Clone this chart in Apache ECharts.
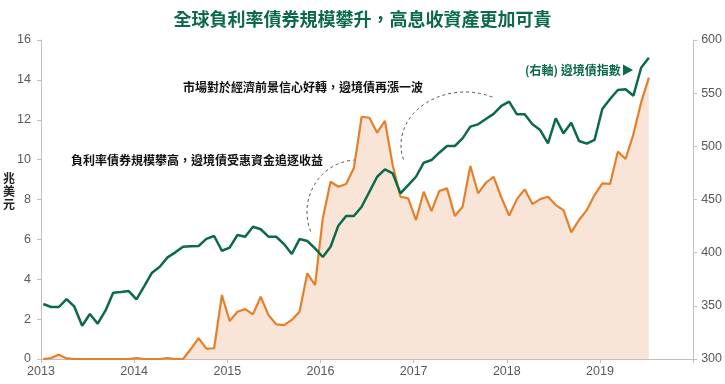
<!DOCTYPE html>
<html>
<head>
<meta charset="utf-8">
<script src="https://cdn.jsdelivr.net/npm/echarts@6/dist/echarts.min.js"></script>
<style>html,body{margin:0;padding:0;background:#fff}#c{width:725px;height:384px}</style>
</head>
<body>
<div id="c"></div>
<script>
// ---- data (monthly, Jan 2013 - Jul 2019) ----
const startYear = 2013;
const yearLabels = ['2013','2014','2015','2016','2017','2018','2019'];
const leftTicks = [0,2,4,6,8,10,12,14,16];
const rightTicks = [300,350,400,450,500,550,600];
// Negative-yield bond size (trillion USD, left axis)
const negYield = [0,0.05,0.22,0.03,0,0,0,0,0,0,0,0,0.04,0,0,0,0.04,0,0,0.5,
  1.04,0.52,0.54,3.21,1.9,2.37,2.5,2.24,3.12,2.2,1.74,1.7,1.96,2.37,4.3,3.71,
  7.06,8.89,8.64,8.78,9.58,12.15,12.1,11.35,11.94,9.73,8.14,8.06,6.97,8.39,7.42,
  8.43,8.56,7.17,7.64,9.68,8.31,8.84,9.14,8.1,7.19,8.02,8.51,7.77,8.02,8.14,7.72,
  7.47,6.35,6.97,7.47,8.22,8.81,8.78,10.4,10.03,11.27,12.87,14.11];
// Frontier-market bond index (right axis)
const emIndex = [351.7,348.9,348.9,356.4,349.2,331.3,342.3,333.2,345.4,362.3,363,363.9,
  356.1,368.6,381.2,386.8,395.6,400.3,405.6,406,406.3,413,415.7,401.8,404.7,416.6,415,
  424.4,422,415,415,408.1,398.7,412.8,411,404.1,395.9,405.6,425.4,434.5,434.5,443.2,
  457.3,471.4,478.4,474.6,455.8,463.6,471.4,484.6,487.1,494,500.3,500.3,507.5,518.5,
  520.7,525.7,530.5,538,542,530.1,530.1,520.7,515.3,502.8,526.4,512.2,522.2,505,502.5,
  506,535.1,544.5,553,553.6,547.6,573.9,583.3];
const monthOffset = 0.3; // observations sit slightly after month start

const negData = negYield.map((v,i)=>[i+monthOffset, v]);
const emData = emIndex.map((v,i)=>[i+monthOffset, v]);

const GREEN = '#0b6a47';
const ORANGE = '#e5802a';
const AREA = '#f9e5d7';
const AXIS = '#bfbfbf';
const LABEL = '#595959';
const CJK = '"Noto Sans CJK TC","Noto Sans CJK SC",sans-serif';
const NUM = '"Liberation Sans Narrow","Liberation Sans",Arial,sans-serif';

function arcPts(cx,cy,rx,ry,a0,a1){
  const pts=[];
  for(let k=0;k<=48;k++){
    const t=(a0+(a1-a0)*k/48)*Math.PI/180;
    pts.push([cx+rx*Math.cos(t), cy+ry*Math.sin(t)]);
  }
  return pts;
}

const chart = echarts.init(document.getElementById('c'));
chart.setOption({
  animation:false,
  backgroundColor:'#fff',
  title:{
    text:'全球負利率債券規模攀升，高息收資產更加可貴',
    left:'center', top:5,
    textStyle:{color:GREEN, fontSize:18, fontWeight:'bold', fontFamily:CJK}
  },
  grid:{left:41, right:31, top:40, bottom:25},
  xAxis:{
    type:'value', min:0, max:(yearLabels.length)*12, interval:12,
    axisLine:{lineStyle:{color:AXIS}},
    axisTick:{show:true, length:4, lineStyle:{color:AXIS}},
    splitLine:{show:false},
    axisLabel:{color:LABEL, fontSize:12.5, fontFamily:NUM, margin:6,
      formatter:v=>{const k=Math.round(v/12); return k<yearLabels.length?yearLabels[k]:'';}}
  },
  yAxis:[{
    type:'value', min:leftTicks[0], max:leftTicks[leftTicks.length-1], interval:2,
    axisLine:{show:true, lineStyle:{color:AXIS}},
    axisTick:{show:true, length:4, lineStyle:{color:AXIS}},
    splitLine:{show:false},
    axisLabel:{color:LABEL, fontSize:12.5, fontFamily:NUM, margin:10}
  },{
    type:'value', min:rightTicks[0], max:rightTicks[rightTicks.length-1], interval:50,
    position:'right',
    axisLine:{show:true, lineStyle:{color:AXIS}},
    axisTick:{show:true, length:4, lineStyle:{color:AXIS}},
    splitLine:{show:false},
    axisLabel:{color:LABEL, fontSize:12.5, fontFamily:NUM, margin:8}
  }],
  series:[{
    type:'line', name:'負殖利率債券規模', yAxisIndex:0, data:negData,
    symbol:'none', lineStyle:{color:ORANGE, width:2.2},
    areaStyle:{color:AREA, opacity:1}, z:2
  },{
    type:'line', name:'邊境債指數', yAxisIndex:1, data:emData,
    symbol:'none', lineStyle:{color:GREEN, width:2.5}, z:3
  }],
  graphic:[
    {type:'text', left:3, top:172, style:{text:'兆\n美\n元', fill:'#222', font:'bold 12px '+CJK, lineHeight:13}},
    {type:'text', x:71, y:160, style:{text:'負利率債券規模攀高，邊境債受惠資金追逐收益', fill:'#111', font:'bold 12px '+CJK, textVerticalAlign:'middle'}},
    {type:'text', x:183, y:87, style:{text:'市場對於經濟前景信心好轉，邊境債再漲一波', fill:'#111', font:'bold 12px '+CJK, textVerticalAlign:'middle'}},
    {type:'text', x:410, y:246, style:{text:'負殖利率債券規模 (左軸)', fill:ORANGE, font:'bold 12px '+CJK, textVerticalAlign:'middle'}},
    {type:'polygon', shape:{points:[[458,226],[452.5,237],[463.5,237]]}, style:{fill:ORANGE}},
    {type:'text', x:525, y:70, style:{text:'(右軸) 邊境債指數', fill:GREEN, font:'bold 12px '+CJK, textVerticalAlign:'middle'}},
    {type:'polygon', shape:{points:[[623,64.5],[633,70],[623,75.5]]}, style:{fill:GREEN}},
    {type:'polyline', shape:{points:arcPts(357,212,50,52,158,294)}, style:{stroke:'#555', lineWidth:1, lineDash:[3,3], fill:null}},
    {type:'polyline', shape:{points:arcPts(465,145,64,53,164,297)}, style:{stroke:'#555', lineWidth:1, lineDash:[3,3], fill:null}}
  ]
});
</script>
</body>
</html>
